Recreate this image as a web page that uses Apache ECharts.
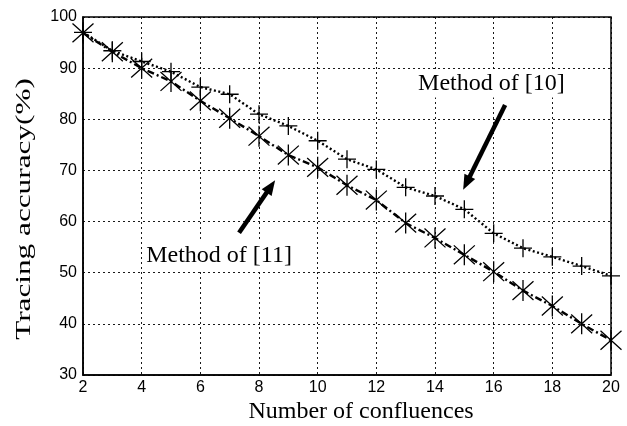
<!DOCTYPE html>
<html>
<head>
<meta charset="utf-8">
<script src="https://cdn.jsdelivr.net/npm/echarts@6/dist/echarts.min.js"></script>
<style>
html,body{margin:0;padding:0;background:#fff;}
#chart{width:627px;height:426px;}
</style>
</head>
<body>
<div id="chart"></div>
<script>
// ---- data ----
const confluences = [2,3,4,5,6,7,8,9,10,11,12,13,14,15,16,17,18,19,20];
const method10 = [97.0,93.4,91.3,89.3,86.3,84.9,81.0,78.7,75.8,72.2,70.2,66.7,65.0,62.4,57.7,54.8,53.1,51.3,49.4];
const method11 = [96.9,93.2,90.0,87.4,83.6,80.2,76.7,73.0,70.6,67.1,64.2,59.7,56.8,53.5,50.2,46.5,43.5,40.0,36.8];
const yTicks = [30,40,50,60,70,80,90,100];
const xTicks = [2,4,6,8,10,12,14,16,18,20];
const xTitle = 'Number of confluences';
const yTitle = 'Tracing accuracy(%)';
const label10 = 'Method of [10]';
const label11 = 'Method of [11]';
// annotation anchors in data units: text left-middle, arrow start, arrow tip
const arrow10 = [[16.39, 82.8], [14.96, 66.2]];
const arrow11 = [[7.32, 57.8], [8.55, 68.1]];
const text10 = [13.32, 87.0];
const text11 = [4.05, 53.3];

const PLUS = 'path://M10,0L10,20M0,10L20,10';
const STAR = 'path://M10,0L10,20M1,1L19,19M1,19L19,1';

const chart = echarts.init(document.getElementById('chart'), null, {renderer:'canvas'});
const pair = arr => confluences.map((x,i)=>[x,arr[i]]);
const option = {
  animation:false,
  backgroundColor:'#fff',
  grid:{left:83,right:16,top:17,bottom:51,show:true,borderColor:'#000',borderWidth:1.5,backgroundColor:'transparent'},
  xAxis:{type:'value',min:xTicks[0],max:xTicks[xTicks.length-1],interval:2,
    axisLine:{show:true,onZero:false,lineStyle:{color:'#000',width:1.5}},
    axisTick:{show:false},
    axisLabel:{color:'#000',fontFamily:'"Liberation Sans", Arial',fontSize:16,margin:5},
    splitLine:{show:true,lineStyle:{color:'#000',width:1,type:[2,3],opacity:0.9}}},
  yAxis:{type:'value',min:yTicks[0],max:yTicks[yTicks.length-1],interval:10,
    axisLine:{show:true,onZero:false,lineStyle:{color:'#000',width:1.5}},
    axisTick:{show:false},
    axisLabel:{color:'#000',fontFamily:'"Liberation Sans", Arial',fontSize:16,margin:6},
    splitLine:{show:true,lineStyle:{color:'#000',width:1,type:[2,3],opacity:0.9}}},
  series:[
    {name:label10,type:'line',data:pair(method10),symbol:PLUS,symbolSize:18,showAllSymbol:true,
     itemStyle:{color:'rgba(0,0,0,0)',borderColor:'#000',borderWidth:1.3},
     lineStyle:{color:'#000',width:2.4,type:[2,2.5]},z:3},
    {name:label11,type:'line',data:pair(method11),symbol:STAR,symbolSize:21,showAllSymbol:true,
     itemStyle:{color:'rgba(0,0,0,0)',borderColor:'#000',borderWidth:1.3},
     lineStyle:{color:'#000',width:2.4,type:[7,3,2,3]},z:3}
  ]
};
chart.setOption(option);

function arrowGraphic(a){
  const p0 = chart.convertToPixel({gridIndex:0}, a[0]);
  const p1 = chart.convertToPixel({gridIndex:0}, a[1]);
  const dx = p1[0]-p0[0], dy = p1[1]-p0[1];
  const L = Math.sqrt(dx*dx+dy*dy); const ux=dx/L, uy=dy/L;
  const hl = 15, hw = 6;
  const bx = p1[0]-ux*hl, by = p1[1]-uy*hl;
  return [
    {type:'line',shape:{x1:p0[0],y1:p0[1],x2:bx+ux*2,y2:by+uy*2},style:{stroke:'#000',lineWidth:4.5},z:10,silent:true},
    {type:'polygon',shape:{points:[[p1[0],p1[1]],[bx-uy*hw,by+ux*hw],[bx+uy*hw,by-ux*hw]]},style:{fill:'#000'},z:10,silent:true}
  ];
}
const t10 = chart.convertToPixel({gridIndex:0}, text10);
const t11 = chart.convertToPixel({gridIndex:0}, text11);
const annFont = '24px "Liberation Serif", "Times New Roman", serif';
chart.setOption({graphic:[
  ...arrowGraphic(arrow10), ...arrowGraphic(arrow11),
  {type:'text',x:t10[0],y:t10[1],z:11,silent:true,style:{text:label10,font:annFont,fill:'#000',textAlign:'left',textVerticalAlign:'middle',backgroundColor:'#fff',padding:[2,3,2,3]}},
  {type:'text',x:t11[0],y:t11[1],z:11,silent:true,style:{text:label11,font:annFont,fill:'#000',textAlign:'left',textVerticalAlign:'middle',backgroundColor:'#fff',padding:[2,3,2,3]}},
  {type:'text',x:361,y:412,silent:true,style:{text:xTitle,font:'24px "Liberation Serif", "Times New Roman", serif',fill:'#000',textAlign:'center',textVerticalAlign:'middle'}},
  {type:'text',x:24,y:209,rotation:Math.PI/2,scaleX:1.42,silent:true,style:{text:yTitle,font:'22px "Liberation Serif", "Times New Roman", serif',fill:'#000',textAlign:'center',textVerticalAlign:'middle'}}
]});
</script>
</body>
</html>
